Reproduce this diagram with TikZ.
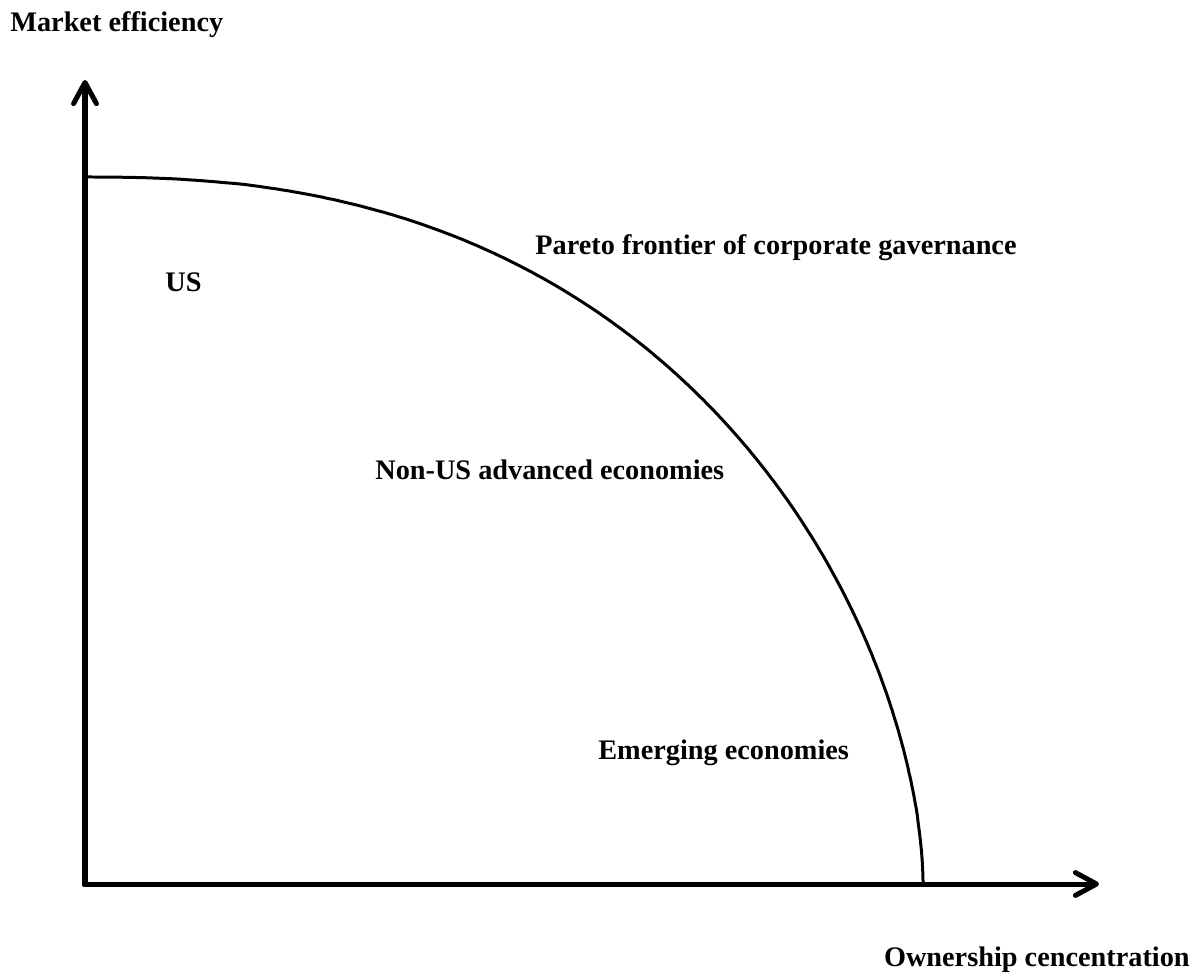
\documentclass[tikz,border=0pt]{standalone}
\usepackage{fontspec}
\setmainfont{Liberation Serif}
\usetikzlibrary{arrows.meta}
\begin{document}
\begin{tikzpicture}[x=0.02cm,y=-0.02cm,
  axis/.style={line width=2.85pt,-{Straight Barb[length=12pt,width=13pt,line cap=round,line join=round]}},
  frontier/.style={line width=1.7pt,line join=round},
  lbl/.style={inner sep=0pt,font=\fontsize{16.1pt}{19pt}\selectfont\bfseries}]
\useasboundingbox (0,0) rectangle (1196,973);
% axes
\coordinate (O) at (85,884);
\coordinate (Ytip) at (85,80);
\coordinate (Xtip) at (1099,884);
\draw[axis] ([yshift=-1.4pt]O) -- (Ytip);
\draw[axis] ([xshift=-1.4pt]O) -- (Xtip);
% Pareto frontier: superellipse-like arc  X^2.38 + Y^1.75 = 1
\coordinate (Ftop) at (85,177);
\coordinate (Fend) at (923,884);
\draw[frontier] (Ftop) -- plot[domain=89.9:0.1,samples=240]
  ({85+838*pow(cos(\x),0.84)},{884-707*pow(sin(\x),1.143)}) -- (Fend);
% labels
\node[lbl,anchor=base west] (ylab) at (10,32) {Market efficiency};
\node[lbl,anchor=base east] (xlab) at (1190,966) {Ownership cencentration};
\node[lbl,anchor=base west] (pareto) at (535,255) {Pareto frontier of corporate gavernance};
\node[lbl,anchor=base west] (us) at (165,291) {US};
\node[lbl,anchor=base west] (nonus) at (375,479) {Non-US advanced economies};
\node[lbl,anchor=base west] (emerg) at (598,759) {Emerging economies};
\end{tikzpicture}
\end{document}
